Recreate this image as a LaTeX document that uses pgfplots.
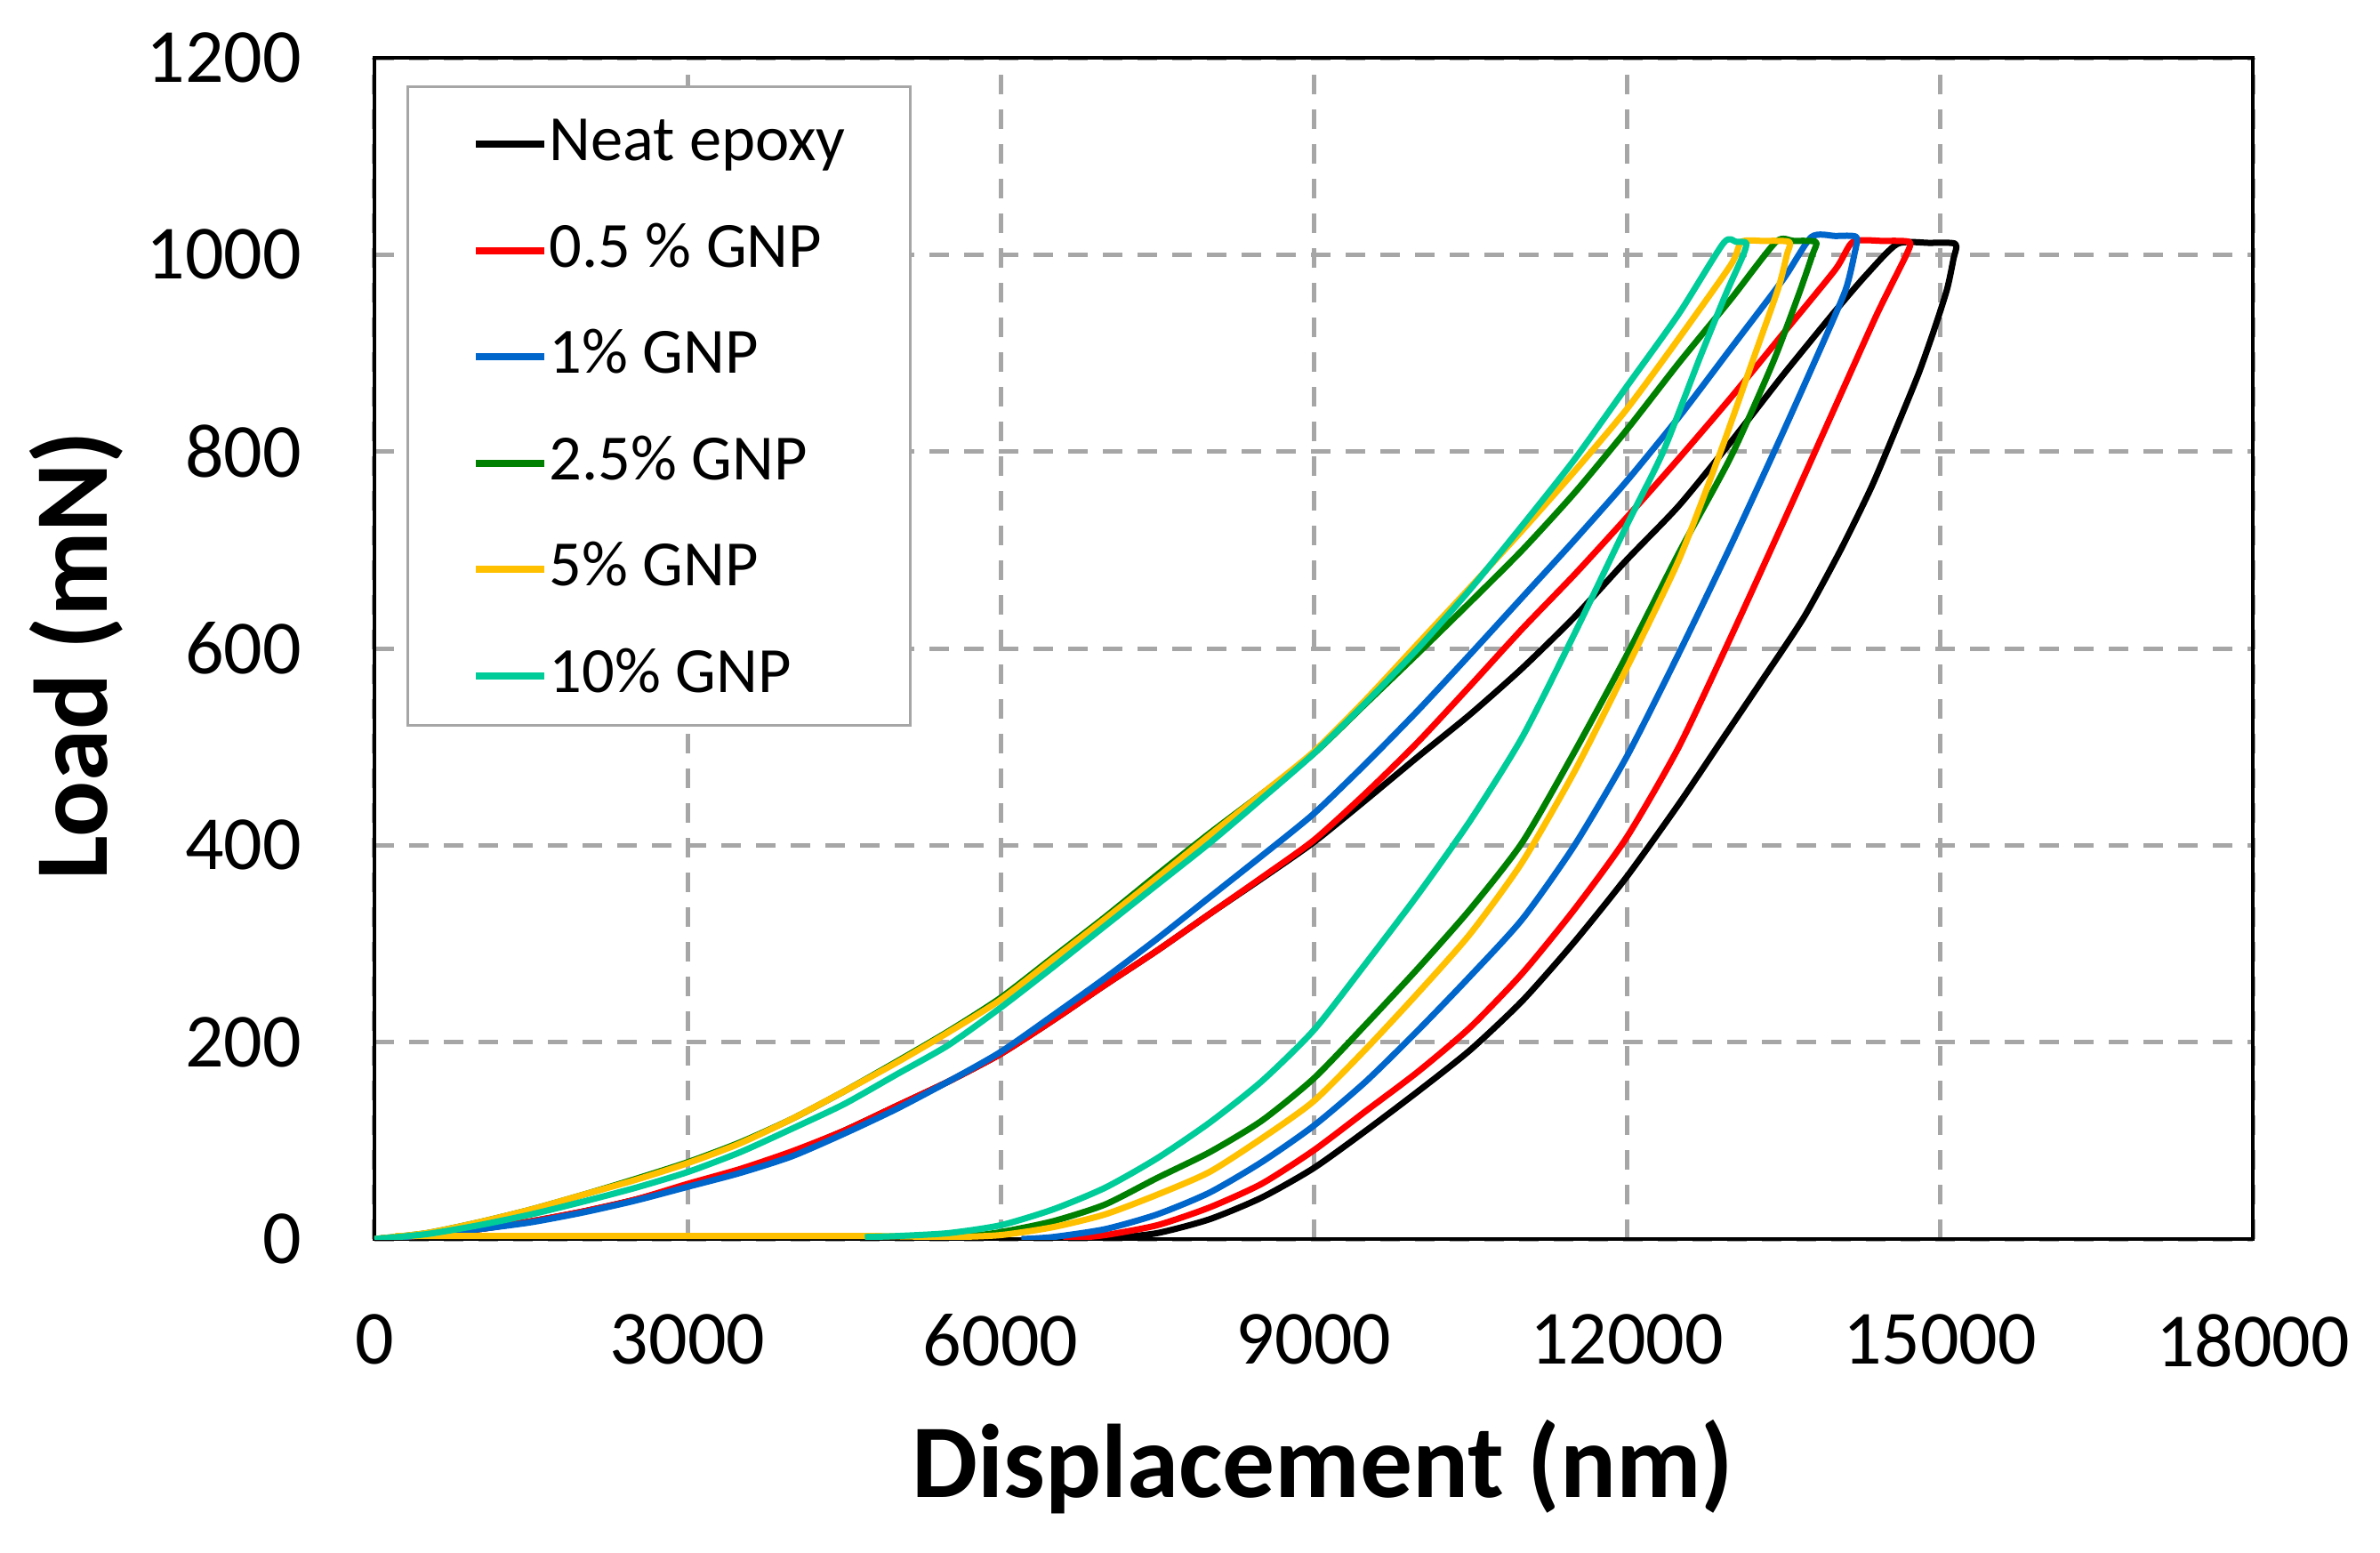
\documentclass[border=0pt]{standalone}
\usepackage{fontspec}
\setmainfont{Carlito}
\usepackage{pgfplots}
\pgfplotsset{compat=1.18}
\definecolor{cblue}{HTML}{0066CC}
\definecolor{cgreen}{HTML}{008000}
\definecolor{cyellow}{HTML}{FFC000}
\definecolor{cteal}{HTML}{00CC99}
\definecolor{cgrid}{HTML}{A6A6A6}
\begin{document}
\begin{tikzpicture}
\path[use as bounding box] (0,0) rectangle (535.2pt,349pt);
\begin{axis}[
  at={(84.2pt,70.4pt)}, anchor=south west,
  scale only axis, width=422.4pt, height=265.6pt,
  xmin=0, xmax=18000, ymin=0, ymax=1200,
  xtick={0,3000,...,18000}, ytick={0,200,...,1200},
  major tick length=0pt,
  scaled ticks=false,
  /pgf/number format/1000 sep={},
  /pgf/number format/assume math mode=true,
  ticklabel style={font=\fontsize{17.2}{20}\selectfont, inner sep=0pt},
  xticklabel style={anchor=north, yshift=-16.7pt},
  yticklabel style={anchor=east, xshift=-16.2pt},
  grid=major,
  major grid style={cgrid, line width=1pt, dash pattern=on 4.4pt off 3.4pt},
  axis line style={black, line width=0.9pt},
  xlabel={Displacement (nm)}, ylabel={Load (mN)},
  label style={font=\fontsize{23.5}{28}\selectfont\bfseries, inner sep=0pt},
  xlabel style={at={(axis description cs:0.505,-0.2184)}, anchor=base},
  ylabel style={at={(axis description cs:-0.1425,0.494)}, anchor=base},
  legend cell align=left,
  legend image code/.code={\draw[#1, line width=1.6pt] (0pt,-0.9pt) -- (15.4pt,-0.9pt);},
  legend style={at={(rel axis cs:0.0169,0.9767)}, anchor=north west,
    draw=cgrid, line width=0.6pt, fill=white,
    inner xsep=14.6pt, inner ysep=7.4pt, row sep=14.6pt, column sep=0.3pt,
    font=\fontsize{14.5}{17}\selectfont,
    nodes={inner sep=0pt, text height=9.3pt, text depth=0pt}},
  every axis plot/.append style={line width=1.4pt, line join=round, mark=none, smooth, tension=0.4},
]
\addplot[black] coordinates {
(0,0) (500,4) (1000,10) (1500,18) (2000,28) (2500,40) (3000,55) (3500,70) (4000,88) (4500,110) (5000,135) (5500,160) (6000,188) (6500,222) (7000,258) (7500,293) (8000,330) (8500,366) (9000,403) (9500,446) (10000,490) (10500,533) (11000,580) (11500,632) (12000,690) (12500,745) (13000,810) (13500,878) (14000,943) (14300,980) (14594,1011)
(14900,1012) (15150,1011)
(15130,995) (15070,965) (14950,925) (14800,880) (14600,828) (14350,765) (14050,700) (13700,632) (13300,568) (12900,505) (12500,442) (12000,368) (11500,302) (11000,242) (10500,192) (10000,150) (9500,110) (9000,72) (8500,42) (8000,20) (7500,6) (7000,0)
};
\addlegendentry{Neat epoxy}
\addplot[red] coordinates {
(0,0) (500,4) (1000,10) (1500,18) (2000,28) (2500,40) (3000,56) (3500,71) (4000,89) (4500,110) (5000,135) (5500,160) (6000,188) (6500,222) (7000,258) (7500,293) (8000,330) (8500,367) (9000,405) (9500,453) (10000,505) (10500,562) (11000,620) (11500,675) (12000,733) (12500,793) (13000,855) (13500,920) (14000,985) (14167,1013)
(14450,1014) (14707,1013)
(14680,1000) (14400,940) (14000,846) (13500,728) (13000,612) (12500,500) (12000,408) (11500,335) (11000,270) (10500,215) (10000,170) (9500,130) (9000,90) (8500,56) (8000,32) (7500,14) (7000,4) (6600,0)
};
\addlegendentry{0.5 \% GNP}
\addplot[cblue] coordinates {
(0,0) (500,4) (1000,10) (1500,17) (2000,27) (2500,39) (3000,53) (3500,67) (4000,84) (4500,107) (5000,132) (5500,160) (6000,190) (6500,227) (7000,265) (7500,305) (8000,347) (8500,389) (9000,432) (9500,483) (10000,537) (10500,594) (11000,652) (11500,710) (12000,770) (12500,835) (13000,905) (13500,975) (13770,1018)
(14000,1019) (14200,1018)
(14181,1000) (14100,965) (13900,915) (13500,820) (13000,705) (12500,595) (12000,490) (11500,400) (11000,325) (10500,267) (10000,212) (9500,160) (9000,115) (8500,78) (8000,47) (7500,25) (7000,10) (6500,2) (6200,0)
};
\addlegendentry{1\% GNP}
\addplot[cgreen] coordinates {
(0,0) (500,6) (1000,17) (1500,30) (2000,45) (2500,61) (3000,78) (3500,98) (4000,122) (4500,150) (5000,180) (5500,211) (6000,245) (6500,286) (7000,327) (7500,370) (8000,412) (8500,452) (9000,493) (9500,544) (10000,595) (10500,647) (11000,700) (11500,758) (12000,822) (12500,890) (13000,955) (13430,1013)
(13600,1014) (13813,1013)
(13780,1000) (13650,960) (13400,890) (13000,795) (12500,697) (12000,593) (11500,495) (11000,403) (10500,335) (10000,275) (9500,218) (9000,163) (8500,120) (8000,88) (7500,62) (7000,35) (6500,18) (6000,7) (5700,3) (5300,0)
};
\addlegendentry{2.5\% GNP}
\addplot[cyellow] coordinates {
(0,0) (500,6) (1000,17) (1500,30) (2000,45) (2500,60) (3000,77) (3500,97) (4000,122) (4500,150) (5000,179) (5500,210) (6000,243) (6500,284) (7000,325) (7500,367) (8000,410) (8500,452) (9000,495) (9500,548) (10000,605) (10500,662) (11000,720) (11500,780) (12000,843) (12500,915) (13000,990) (13100,1013)
(13300,1014) (13557,1013)
(13535,1000) (13450,965) (13200,890) (12900,800) (12500,690) (12000,580) (11500,475) (11000,383) (10500,310) (10000,250) (9500,193) (9000,140) (8500,102) (8000,68) (7500,45) (7000,25) (6500,12) (6000,4) (5500,2) (4800,3) (3000,3) (1000,3) (200,3)
};
\addlegendentry{5\% GNP}
\addplot[cteal] coordinates {
(0,0) (500,5) (1000,14) (1500,25) (2000,38) (2500,52) (3000,68) (3500,88) (4000,112) (4500,137) (5000,167) (5500,197) (6000,235) (6500,276) (7000,318) (7500,360) (8000,402) (8500,447) (9000,493) (9500,545) (10000,600) (10500,660) (11000,725) (11500,792) (12000,866) (12500,940) (12929,1012)
(13050,1013) (13145,1012)
(13118,1000) (12950,960) (12700,895) (12350,800) (12000,725) (11500,615) (11000,510) (10500,425) (10000,350) (9500,280) (9000,212) (8500,160) (8000,118) (7500,82) (7000,52) (6500,30) (6000,14) (5500,6) (5000,3) (4700,2)
};
\addlegendentry{10\% GNP}
\end{axis}
\end{tikzpicture}
\end{document}
